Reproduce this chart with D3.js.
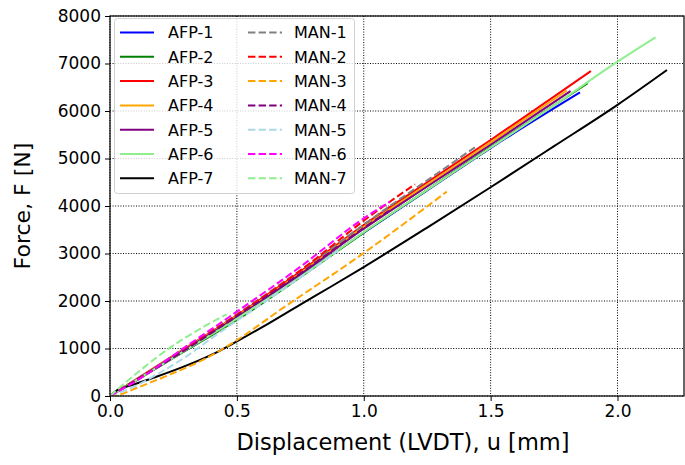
<!DOCTYPE html>
<html>
<head>
<meta charset="utf-8">
<script src="https://cdn.jsdelivr.net/npm/d3@7"></script>
<style>
  html, body { margin: 0; padding: 0; background: #fff; }
  svg { display: block; font-family: "DejaVu Sans", sans-serif; }
</style>
</head>
<body>
<svg id="chart" width="685" height="465"></svg>
<script>
// ---- data (displacement [mm], force [N]) ----
const xTicks = [0.0, 0.5, 1.0, 1.5, 2.0];
const yTicks = [0, 1000, 2000, 3000, 4000, 5000, 6000, 7000, 8000];

const afp1 = [[0,0],[0.1,320],[0.25,805],[0.5,1630],[0.75,2520],[1.0,3440],[1.25,4330],[1.5,5220],[1.852,6390]];
const afp2 = [[0,0],[0.1,320],[0.25,800],[0.5,1600],[0.75,2500],[1.0,3440],[1.25,4340],[1.5,5240],[1.882,6583]];
const afp3 = [[0,0],[0.1,340],[0.25,850],[0.5,1700],[0.75,2620],[1.0,3600],[1.25,4500],[1.5,5390],[1.895,6842]];
const afp4 = [[0,0],[0.1,335],[0.25,840],[0.5,1680],[0.75,2590],[1.0,3560],[1.25,4450],[1.5,5340],[1.80,6430]];
const afp5 = [[0,0],[0.1,330],[0.25,830],[0.5,1660],[0.75,2560],[1.0,3520],[1.25,4410],[1.5,5290],[1.815,6421]];
const afp6 = [[0,0],[0.1,325],[0.25,810],[0.5,1630],[0.75,2510],[1.0,3450],[1.25,4340],[1.5,5230],[1.75,6120],[2.0,7038],[2.15,7551]];
const afp7 = [[0,0],[0.03,130],[0.08,220],[0.18,400],[0.31,660],[0.42,920],[0.5,1150],[0.6,1450],[0.75,1925],[0.87,2300],[1.0,2715],[1.25,3545],[1.5,4395],[1.75,5260],[2.0,6130],[2.195,6863]];

const man1 = [[0,0],[0.1,340],[0.3,1020],[0.5,1720],[0.83,2950],[1.1,3990],[1.25,4540],[1.438,5235]];
const man2 = [[0,0],[0.1,330],[0.3,1010],[0.5,1710],[0.75,2640],[1.0,3690],[1.1,4080],[1.202,4457]];
const man3 = [[0,0],[0.04,35],[0.11,180],[0.24,460],[0.37,770],[0.49,1140],[0.67,1810],[1.0,3010],[1.327,4302]];
const man4 = [[0,0],[0.1,320],[0.3,980],[0.5,1680],[0.75,2580],[1.0,3540],[1.1,3900]];
const man5 = [[0,0],[0.1,210],[0.2,500],[0.3,830],[0.43,1330],[0.53,1690],[0.67,2200],[0.8,2680],[0.9,3060]];
const man6 = [[0,0],[0.11,340],[0.28,970],[0.49,1740],[0.75,2720],[1.0,3740],[1.103,4090]];
const man7 = [[0,0],[0.11,500],[0.24,1030],[0.37,1460],[0.46,1720]];

const seriesNames = ["AFP-1","AFP-2","AFP-3","AFP-4","AFP-5","AFP-6","AFP-7",
                     "MAN-1","MAN-2","MAN-3","MAN-4","MAN-5","MAN-6","MAN-7"];
const seriesData = [afp1, afp2, afp3, afp4, afp5, afp6, afp7,
                    man1, man2, man3, man4, man5, man6, man7];
const seriesColors = ["blue","green","red","orange","purple","lightgreen","black",
                      "grey","red","orange","purple","lightblue","magenta","lightgreen"];
const seriesDashed = [false,false,false,false,false,false,false,
                      true,true,true,true,true,true,true];

// ---- layout ----
const W = 685, H = 465;
const m = { left: 110, right: 1, top: 16, bottom: 69 };
const pw = W - m.left - m.right, ph = H - m.top - m.bottom;

const svg = d3.select("#chart");
const x = d3.scaleLinear().domain([0, 2.262]).range([m.left, m.left + pw]);
const y = d3.scaleLinear().domain([0, 8000]).range([m.top + ph, m.top]);

svg.append("defs").append("clipPath").attr("id", "clip")
  .append("rect").attr("x", m.left).attr("y", m.top).attr("width", pw).attr("height", ph);

// grid
const grid = svg.append("g");
grid.selectAll(".gx").data(xTicks).enter().append("line")
  .attr("x1", d => x(d)).attr("x2", d => x(d))
  .attr("y1", m.top).attr("y2", m.top + ph)
  .attr("stroke", "#000").attr("stroke-width", 1).attr("stroke-dasharray", "1,1.6");
grid.selectAll(".gy").data(yTicks).enter().append("line")
  .attr("x1", m.left).attr("x2", m.left + pw)
  .attr("y1", d => y(d)).attr("y2", d => y(d))
  .attr("stroke", "#000").attr("stroke-width", 1).attr("stroke-dasharray", "1,1.6");

// lines
const line = d3.line().curve(d3.curveMonotoneX).x(d => x(d[0])).y(d => y(d[1]));
const lines = svg.append("g").attr("clip-path", "url(#clip)");
seriesData.forEach((s, i) => {
  lines.append("path").datum(s)
    .attr("d", line)
    .attr("fill", "none")
    .attr("stroke", seriesColors[i])
    .attr("stroke-width", 2)
    .attr("stroke-dasharray", seriesDashed[i] ? "7.4,3.2" : null)
    .attr("stroke-linejoin", "round");
});

// axes
const xAxis = d3.axisBottom(x).tickValues(xTicks).tickFormat(d3.format(".1f")).tickSize(5).tickPadding(4);
const yAxis = d3.axisLeft(y).tickValues(yTicks).tickFormat(d3.format("d")).tickSize(5).tickPadding(4);
const gx = svg.append("g").attr("transform", `translate(0,${m.top + ph})`).call(xAxis);
const gy = svg.append("g").attr("transform", `translate(${m.left},0)`).call(yAxis);
[gx, gy].forEach(g => {
  g.select(".domain").remove();
  g.selectAll("text").attr("font-size", "17px").attr("fill", "#000").attr("font-family", "DejaVu Sans");
  g.selectAll("line").attr("stroke", "#000").attr("stroke-width", 1);
});

// frame
svg.append("rect").attr("x", m.left).attr("y", m.top).attr("width", pw).attr("height", ph)
  .attr("fill", "none").attr("stroke", "#000").attr("stroke-width", 1.2);

// axis labels
svg.append("text").attr("x", m.left + pw / 2 + 6).attr("y", 450)
  .attr("text-anchor", "middle").attr("font-size", "22.5px").text("Displacement (LVDT), u [mm]");
svg.append("text").attr("transform", `translate(30,${m.top + ph / 2}) rotate(-90)`)
  .attr("text-anchor", "middle").attr("font-size", "22px").text("Force, F [N]");

// legend
const leg = svg.append("g");
leg.append("rect").attr("x", 114.5).attr("y", 18.5).attr("width", 240).attr("height", 175)
  .attr("rx", 3).attr("fill", "#fff").attr("fill-opacity", 0.8)
  .attr("stroke", "#d0d0d0").attr("stroke-width", 1);
seriesNames.forEach((name, i) => {
  const col = Math.floor(i / 7), row = i % 7;
  const lx = col === 0 ? 120 : 248;
  const ly = 32.5 + row * 24.3;
  leg.append("line").attr("x1", lx).attr("x2", lx + 34).attr("y1", ly).attr("y2", ly)
    .attr("stroke", seriesColors[i]).attr("stroke-width", 2)
    .attr("stroke-dasharray", seriesDashed[i] ? "7.4,3.2" : null);
  leg.append("text").attr("x", col === 0 ? 168 : 294).attr("y", ly + 5.8)
    .attr("font-size", "16px").text(name);
});
</script>
</body>
</html>
